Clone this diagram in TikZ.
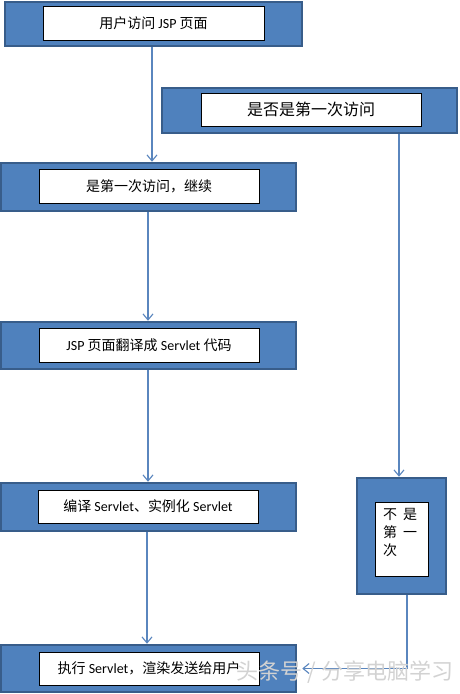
\documentclass[tikz,border=0pt]{standalone}
\usepackage{fontspec}
\setmainfont{Carlito}
\newfontfamily\cjk{Noto Sans CJK SC}
\usetikzlibrary{arrows.meta}
\definecolor{boxblue}{HTML}{4F81BD}
\definecolor{boxedge}{HTML}{385D8A}
\definecolor{arrblue}{HTML}{5A86BE}
\begin{document}
\begin{tikzpicture}[x=1pt,y=-1pt,
  outerbox/.style={draw=boxedge,line width=2.5pt,fill=boxblue,minimum width=#1,inner sep=0pt},
  innerbox/.style={draw=black,line width=0.8pt,fill=white,inner sep=0pt,font=\fontsize{14}{16}\selectfont},
  arr/.style={draw=arrblue,line width=1.2pt,-{Straight Barb[length=6pt,width=10pt,line width=1.1pt]}}
]
\useasboundingbox (0,0) rectangle (460,694);
% box 1
\node[outerbox=297pt,minimum height=44pt] (o1) at (153.5,24) {};
\node[innerbox,minimum width=221pt,minimum height=34pt] (b1) at (153.5,23) {\cjk 用户访问 \normalfont JSP \cjk 页面};
% box 2
\node[outerbox=295pt,minimum height=45pt] (o2) at (309.5,110.5) {};
\node[innerbox,minimum width=220pt,minimum height=33pt,font=\fontsize{16}{18}\selectfont] (b2) at (311,109.5) {\cjk 是否是第一次访问};
% box 3
\node[outerbox=295pt,minimum height=48pt] (o3) at (148.5,187) {};
\node[innerbox,minimum width=220pt,minimum height=34pt] (b3) at (149,186) {\cjk 是第一次访问，继续};
% box 4
\node[outerbox=295pt,minimum height=47pt] (o4) at (148.5,345.5) {};
\node[innerbox,minimum width=220pt,minimum height=34pt] (b4) at (149,345) {JSP \cjk 页面翻译成 \normalfont Servlet \cjk 代码};
% box 5
\node[outerbox=295pt,minimum height=48pt] (o5) at (148.5,507) {};
\node[innerbox,minimum width=220pt,minimum height=33pt] (b5) at (148,506.5) {\cjk 编译 \normalfont Servlet\cjk 、实例化 \normalfont Servlet};
% box 6
\node[outerbox=89pt,minimum height=116pt] (o6) at (401.5,536) {};
\node[innerbox,minimum width=53pt,minimum height=74pt] (b6) at (401.5,539) {};
\node[anchor=north west,inner sep=0pt,align=left,font=\fontsize{14}{18}\selectfont\cjk] (t6) at (383,508) {不\hspace{6pt}是\\第\hspace{6pt}一\\次};
% box 7
\node[outerbox=295pt,minimum height=47pt] (o7) at (148.5,668.5) {};
\node[innerbox,minimum width=220pt,minimum height=33pt] (b7) at (149,668.5) {\cjk 执行 \normalfont Servlet\cjk ，渲染发送给用户};
% connectors
\coordinate (x1) at (152,0);
\coordinate (x2) at (148,0);
\coordinate (x3) at (147,0);
\coordinate (x4) at (399,0);
\coordinate (x5) at (407,0);
\draw[arr] (o1.south -| x1) -- (o3.north -| x1);
\draw[arr] (o3.south -| x2) -- (o4.north -| x2);
\draw[arr] (o4.south -| x2) -- (o5.north -| x2);
\draw[arr] (o5.south -| x3) -- (o7.north -| x3);
\draw[arr] (o2.south -| x4) -- (o6.north -| x4);
\draw[arr,shorten >=5pt] (o6.south -| x5) |- (o7.east);
% watermark
\node[text=gray!35,font=\fontsize{22}{24}\selectfont\cjk,inner sep=0pt] (wm) at (345,672) {头条号 / 分享电脑学习};
\end{tikzpicture}
\end{document}
